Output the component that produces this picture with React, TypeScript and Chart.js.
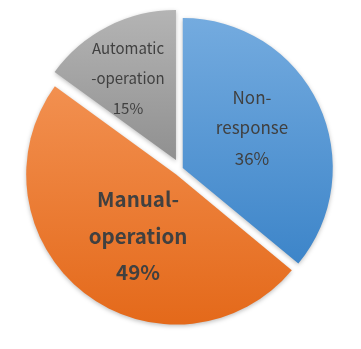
import React, { useEffect, useRef } from 'react';
import { Chart, PieController, ArcElement } from 'chart.js';

Chart.register(PieController, ArcElement);

// ---- data ----
const categories = ['Non-response', 'Manual-operation', 'Automatic-operation'];
const labelLines = [['Non-', 'response'], ['Manual-', 'operation'], ['Automatic', '-operation']];
const values = [36, 49, 15];
const explode = [10, 28, 40]; // chart.js offset units (translation = offset / 4)
const colorsTop = ['#74abdf', '#f29050', '#b4b4b4'];
const colorsBottom = ['#3d85c9', '#e4691a', '#909090'];
const labelRadius = [0.533, 0.483, 0.634];
const labelAngleAdj = [-4.8, -6, -3.3];
const labelFontSize = [17, 20.5, 15];
const labelBold = [false, true, false];
const labelLineHeight = [30.5, 36.5, 30];

// Translate exploded slices without enlarging their radius
const baseArcDraw = (ArcElement.prototype as any).draw;
if (!(ArcElement.prototype as any).__explodePatched) {
  (ArcElement.prototype as any).__explodePatched = true;
  (ArcElement.prototype as any).draw = function (ctx: CanvasRenderingContext2D) {
    const opts = this.options;
    const t = (opts.offset || 0) / 4;
    if (!t) return baseArcDraw.call(this, ctx);
    const half = (this.startAngle + this.endAngle) / 2;
    ctx.save();
    ctx.translate(Math.cos(half) * t, Math.sin(half) * t);
    this.options = { ...opts, offset: 0 };
    baseArcDraw.call(this, ctx);
    this.options = opts;
    ctx.restore();
  };
}

function sliceYExtent(i: number): [number, number] {
  const total = values.reduce((a, b) => a + b, 0);
  let acc = 0;
  for (let k = 0; k < i; k++) acc += values[k];
  const s = (acc / total) * Math.PI * 2;
  const e = ((acc + values[i]) / total) * Math.PI * 2;
  const ys = [0, -Math.cos(s), -Math.cos(e)];
  if (s <= 0 + 1e-9 || e >= Math.PI * 2 - 1e-9) ys.push(-1);
  if (s <= Math.PI && e >= Math.PI) ys.push(1);
  return [Math.min(...ys), Math.max(...ys)];
}

const shadowPlugin = {
  id: 'softShadow',
  beforeDatasetsDraw(chart: any) {
    const c = chart.ctx;
    c.save();
    c.shadowColor = 'rgba(0,0,0,0.25)';
    c.shadowBlur = 4;
    c.shadowOffsetX = 0;
    c.shadowOffsetY = 1.5;
  },
  afterDatasetsDraw(chart: any) {
    chart.ctx.restore();
  },
};

const labelPlugin = {
  id: 'sliceLabels',
  afterDraw(chart: any) {
    const meta = chart.getDatasetMeta(0);
    const ctx = chart.ctx;
    const total = values.reduce((a, b) => a + b, 0);
    meta.data.forEach((el: any, i: number) => {
      const { x, y, startAngle, endAngle, outerRadius } = el.getProps(
        ['x', 'y', 'startAngle', 'endAngle', 'outerRadius'],
        true
      );
      const t = explode[i] / 4;
      const mid = (startAngle + endAngle) / 2;
      const cx = x + Math.cos(mid) * t;
      const cy = y + Math.sin(mid) * t;
      const a = mid + (labelAngleAdj[i] * Math.PI) / 180;
      const lx = cx + Math.cos(a) * outerRadius * labelRadius[i];
      const ly = cy + Math.sin(a) * outerRadius * labelRadius[i];
      const pct = Math.round((values[i] / total) * 100) + '%';
      const lines = [...labelLines[i], pct];
      ctx.save();
      ctx.fillStyle = '#404040';
      ctx.textAlign = 'center';
      ctx.textBaseline = 'middle';
      ctx.font = `${labelBold[i] ? 'bold ' : ''}${labelFontSize[i]}px 'Noto Sans CJK KR', 'Noto Sans', sans-serif`;
      lines.forEach((s, k) => {
        ctx.fillText(s, lx, ly + (k - (lines.length - 1) / 2) * labelLineHeight[i]);
      });
      ctx.restore();
    });
  },
};

export default function App() {
  const ref = useRef<HTMLCanvasElement | null>(null);
  useEffect(() => {
    if (!ref.current) return;
    const chart = new Chart(ref.current, {
      type: 'pie',
      data: {
        labels: categories,
        datasets: [
          {
            data: values,
            backgroundColor: (c: any) => {
              const chart = c.chart;
              const area = chart.chartArea;
              const i = c.dataIndex ?? 0;
              if (!area) return colorsTop[i];
              const cyc = (area.top + area.bottom) / 2;
              const r = 150;
              const [y0, y1] = sliceYExtent(i);
              const g = chart.ctx.createLinearGradient(0, cyc + y0 * r, 0, cyc + y1 * r);
              g.addColorStop(0, colorsTop[i]);
              g.addColorStop(1, colorsBottom[i]);
              return g;
            },
            borderWidth: 0,
            offset: explode,
            hoverOffset: 0,
            radius: 150,
          } as any,
        ],
      },
      options: {
        responsive: false,
        animation: false,
        events: [],
        layout: { padding: { bottom: 11 } },
        plugins: { legend: { display: false }, tooltip: { enabled: false } } as any,
      },
      plugins: [shadowPlugin, labelPlugin],
    });
    return () => chart.destroy();
  }, []);
  return (
    <div style={{ position: 'absolute', left: 0, top: 0, width: 361, height: 349, background: '#ffffff' }}>
      <canvas ref={ref} width={361} height={349} style={{ display: 'block', width: 361, height: 349 }} />
    </div>
  );
}
